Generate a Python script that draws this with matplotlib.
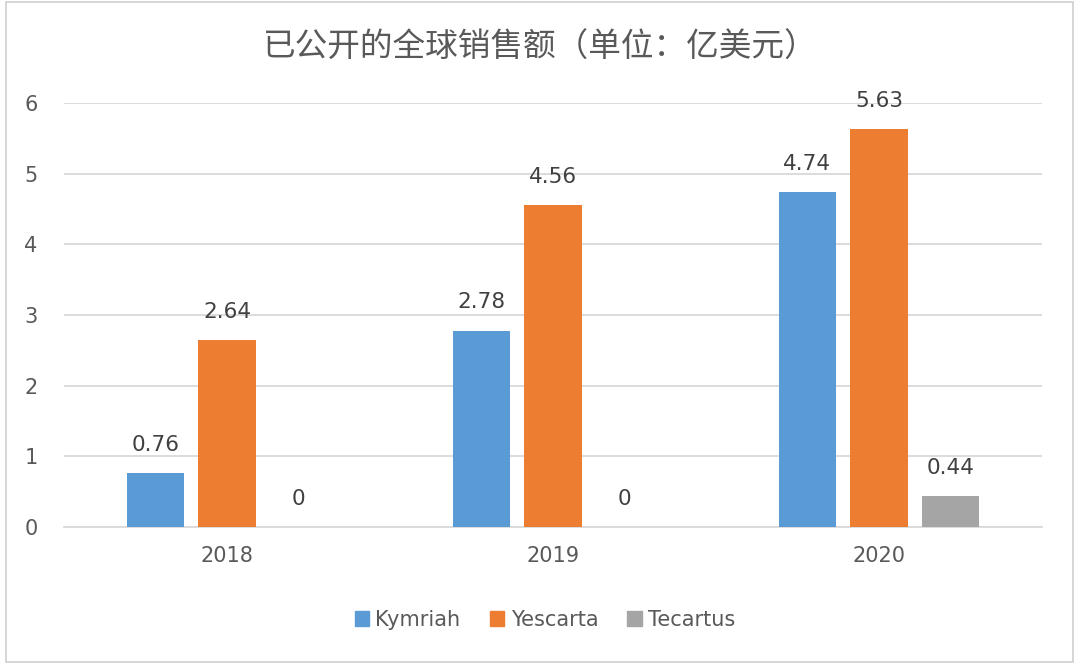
import matplotlib
matplotlib.use("Agg")
import matplotlib.pyplot as plt
from matplotlib.patches import Rectangle, Patch
import numpy as np

plt.rcParams['font.family'] = ['DejaVu Sans', 'Noto Sans CJK SC']

years = ["2018", "2019", "2020"]
series_names = ["Kymriah", "Yescarta", "Tecartus"]
kymriah = [0.76, 2.78, 4.74]
yescarta = [2.64, 4.56, 5.63]
tecartus = [0, 0, 0.44]
colors = ["#5B9BD5", "#ED7D31", "#A5A5A5"]
title = "已公开的全球销售额（单位：亿美元）"
yticks = [0, 1, 2, 3, 4, 5, 6]

W, H = 1080, 664
fig = plt.figure(figsize=(W / 100, H / 100), dpi=100)
fig.patch.set_facecolor("white")

# chart area border
fig.add_artist(Rectangle((6 / W, 2 / H), (1073 - 6) / W, (662 - 2) / H,
                         transform=fig.transFigure, fill=False,
                         edgecolor="#D0D0D0", linewidth=1.2))

ax = fig.add_axes([64 / W, (H - 527) / H, (1042 - 64) / W, (527 - 103) / H])
txt = "#595959"

x = np.arange(len(years))
bw = 0.175
step = 0.22
data = [kymriah, yescarta, tecartus]
for i, (vals, c) in enumerate(zip(data, colors)):
    pos = x + (i - 1) * step
    ax.bar(pos, vals, width=bw, color=c, zorder=3)
    for p, v in zip(pos, vals):
        lab = "0" if v == 0 else f"{v:.2f}"
        ax.annotate(lab, (p, v), xytext=(0, 13), textcoords="offset points",
                    ha="center", va="bottom", fontsize=15.5, color="#404040")

ax.set_xlim(-0.5, 2.5)
ax.set_ylim(0, 6)
ax.set_yticks(yticks)
ax.set_xticks(x)
ax.set_xticklabels(years)
ax.yaxis.grid(True, color="#D9D9D9", linewidth=1.3, zorder=0)
ax.set_axisbelow(True)
for s in ["top", "right", "left"]:
    ax.spines[s].set_visible(False)
ax.spines["bottom"].set_color("#D9D9D9")
ax.spines["bottom"].set_linewidth(1.3)
ax.tick_params(axis="both", length=0, labelsize=15, labelcolor=txt)
ax.tick_params(axis="y", pad=19)
ax.tick_params(axis="x", pad=14)

fig.text(540 / W, (H - 48) / H, title, ha="center", va="center",
         fontsize=23.5, color=txt, family=['Noto Sans CJK SC', 'DejaVu Sans'])

handles = [Patch(facecolor=c, edgecolor=c) for c in colors]
fig.legend(handles, series_names, loc="center", bbox_to_anchor=(545 / W, (H - 620) / H),
           ncol=3, frameon=False, fontsize=15, labelcolor=txt,
           handlelength=0.7, handleheight=0.7, handletextpad=0.3, columnspacing=1.4)

fig.savefig("out.png", dpi=100, facecolor="white")
